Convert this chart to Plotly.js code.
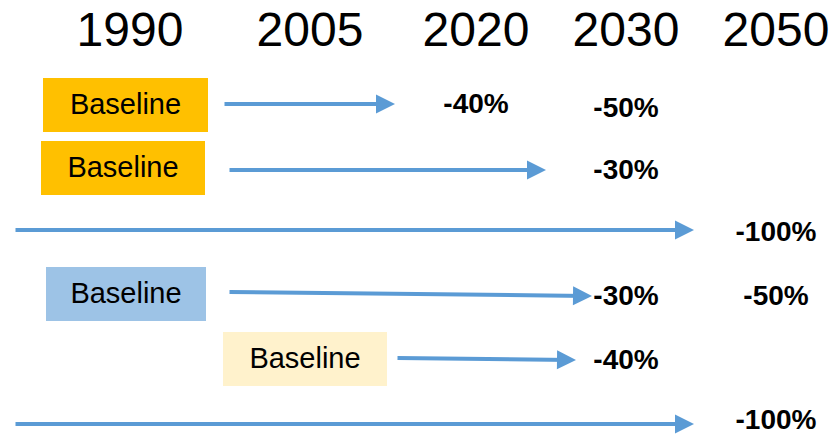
<!DOCTYPE html>
<html>
<head>
<meta charset="utf-8">
<script src="https://cdn.plot.ly/plotly-3.0.1.min.js"></script>
<style>html,body{margin:0;padding:0;background:#fff;}#chart{width:829px;height:434px;}</style>
</head>
<body>
<div id="chart"></div>
<script>
// ---- data ----
const years = ['1990', '2005', '2020', '2030', '2050'];
const rowNames = ['r1', 'r2', 'r3', 'r4', 'r5', 'r6'];
const baselineLabel = ['Baseline', 'Baseline', '', 'Baseline', 'Baseline', ''];
const baselineYear = ['1990', '1990', '', '1990', '2005', ''];
const target2020 = ['-40%', '', '', '', '', ''];
const target2030 = ['-50%', '-30%', '', '-30%', '-40%', ''];
const target2050 = ['', '', '-100%', '-50%', '', '-100%'];

// ---- layout helpers (positions / styles) ----
const yearX = [130, 310, 476, 626, 776];
const headerY = 34;
const rowY = [105, 168, 231, 294, 359, 423];
const boxX = [[43, 208], [41, 205], null, [46, 206], [223, 387], null];
const boxH = 54;
const boxColor = ['#FFC000', '#FFC000', null, '#9DC3E6', '#FFF2CC', null];
const arrowTail = [[223, 104], [228, 170], [14, 230], [228, 292], [396, 358], [14, 424]];
const arrowHead = [[395, 104], [546, 170], [694, 230], [592, 296], [576, 360], [694, 424]];
const targetDy = [[1, 5], [4, 4], [2, 3], [4, 4], [3, 3], [0, -1]];

const FONT = 'Liberation Sans, Arial, sans-serif';
const traces = [];
const shapes = [];
const annotations = [];

// header years
traces.push({
  x: yearX, y: years.map(() => headerY), text: years, mode: 'text', type: 'scatter',
  textfont: {family: FONT, size: 48, color: '#000'}, hoverinfo: 'skip', cliponaxis: false
});

// baseline boxes + labels
const bx = [], by = [], bt = [];
rowNames.forEach((r, i) => {
  if (!baselineLabel[i]) return;
  const [x0, x1] = boxX[i];
  shapes.push({type: 'rect', xref: 'x', yref: 'y', x0: x0, x1: x1,
    y0: rowY[i] - boxH / 2, y1: rowY[i] + boxH / 2,
    fillcolor: boxColor[i], line: {width: 0}, layer: 'below'});
  bx.push((x0 + x1) / 2); by.push(rowY[i] + 2); bt.push(baselineLabel[i]);
});
traces.push({x: bx, y: by, text: bt, mode: 'text', type: 'scatter',
  textfont: {family: FONT, size: 29, color: '#000'}, hoverinfo: 'skip', cliponaxis: false});

// arrows
rowNames.forEach((r, i) => {
  annotations.push({
    xref: 'x', yref: 'y', axref: 'x', ayref: 'y',
    x: arrowHead[i][0], y: arrowHead[i][1], ax: arrowTail[i][0], ay: arrowTail[i][1],
    text: '', showarrow: true, arrowhead: 2, arrowsize: 0.95, arrowwidth: 4,
    arrowcolor: '#5B9BD5', standoff: 0, startstandoff: 0
  });
});

// targets
const tx = [], ty = [], tt = [];
rowNames.forEach((r, i) => {
  if (target2020[i]) { tx.push(yearX[2]); ty.push(rowY[i] + targetDy[i][0]); tt.push(target2020[i]); }
  if (target2030[i]) { tx.push(yearX[3]); ty.push(rowY[i] + targetDy[i][0] + (target2020[i] ? 4 : 0)); tt.push(target2030[i]); }
  if (target2050[i]) { tx.push(yearX[4]); ty.push(rowY[i] + targetDy[i][1]); tt.push(target2050[i]); }
});
traces.push({x: tx, y: ty, text: tt, mode: 'text', type: 'scatter',
  textfont: {family: FONT, size: 28, color: '#000', weight: 'bold'}, hoverinfo: 'skip', cliponaxis: false});

Plotly.newPlot('chart', traces, {
  width: 829, height: 434,
  margin: {l: 0, r: 0, t: 0, b: 0},
  paper_bgcolor: '#fff', plot_bgcolor: '#fff',
  showlegend: false,
  xaxis: {range: [0, 829], visible: false, fixedrange: true},
  yaxis: {range: [434, 0], visible: false, fixedrange: true},
  shapes: shapes, annotations: annotations
}, {staticPlot: true, displayModeBar: false});
</script>
</body>
</html>
